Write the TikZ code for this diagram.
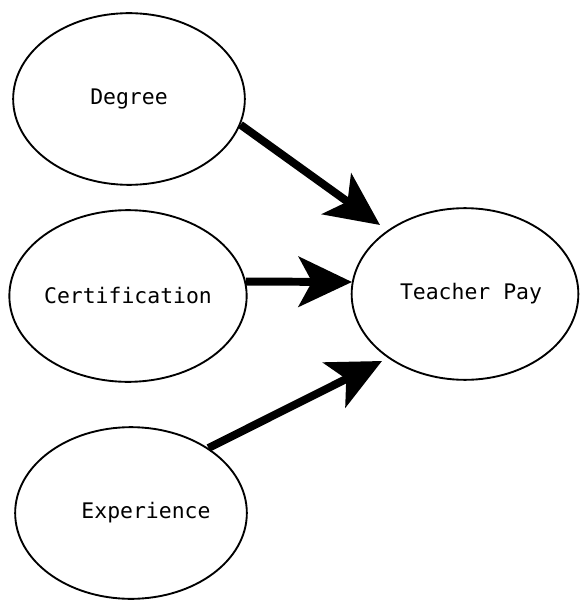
\documentclass[tikz,border=0pt]{standalone}
\usepackage{fontspec}
\setmonofont{DejaVu Sans Mono}
\usepackage{tikz}
\usetikzlibrary{shapes.geometric, arrows.meta, positioning}

\begin{document}
\begin{tikzpicture}[
    x=0.03cm, y=-0.03cm,
    oval/.style={draw, ellipse, line width=1.6pt, minimum width=6.95cm, minimum height=5.15cm, inner sep=0pt, font=\ttfamily\fontsize{18.3}{22}\selectfont},
    bigarrow/.style={line width=6.8pt, -{Stealth[length=1.6cm, width=1.5cm, inset=0.4cm]}}
]
    \useasboundingbox (0,0) rectangle (579,600);

    \node[oval] (deg) at (129,99) {Degree};
    \node[oval] (cert) at (128,296) {Certification};
    \node[oval] (exp) at (131,513) {\hspace*{0.9cm}Experience};
    \node[oval, minimum width=6.8cm] (pay) at (465,294) {\hspace*{0.36cm}Teacher Pay};

    % arrow tips stop just short of the pay ellipse
    \coordinate (degtip) at (380,225);
    \coordinate (certtip) at (352,282);
    \coordinate (exptip) at (382,361);

    \draw[bigarrow] (deg.-13) -- (degtip);
    \draw[bigarrow] (cert.7) -- (certtip);
    \draw[bigarrow] (exp.40) -- (exptip);
\end{tikzpicture}
\end{document}
